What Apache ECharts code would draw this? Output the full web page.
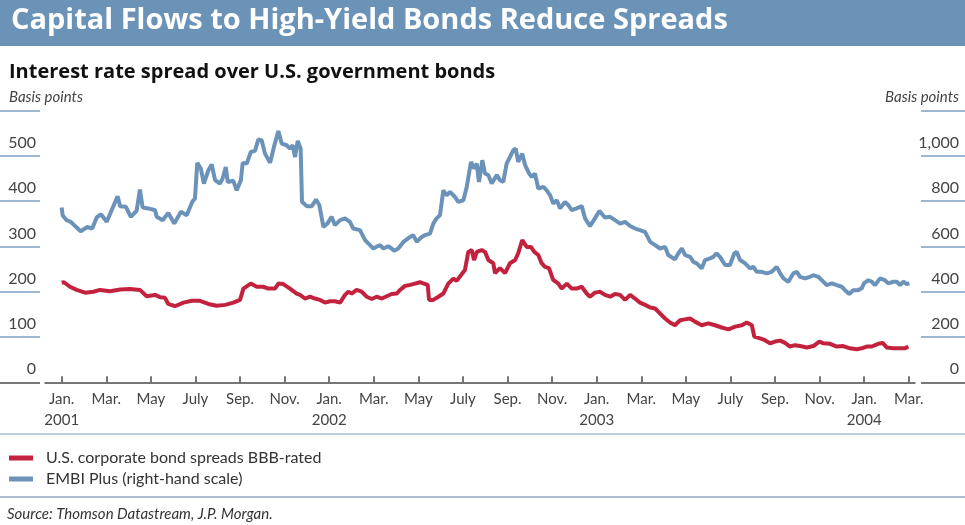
<!DOCTYPE html>
<html><head><meta charset="utf-8">
<script src="https://cdn.jsdelivr.net/npm/echarts@6/dist/echarts.min.js"></script>
<style>html,body{margin:0;padding:0;background:#fff}#c{width:965px;height:525px}</style>
</head><body><div id="c"></div>
<script>
// Months since Jan. 2001 (0 = Jan. 2001, 38 = Mar. 2004)
const blueMonths = [0,0.04,0.22,0.40,0.60,0.85,1.15,1.37,1.57,1.76,
2.02,2.24,2.51,2.62,2.88,3.10,3.36,3.51,3.63,3.89,
4.19,4.26,4.53,4.78,5.05,5.35,5.61,5.86,5.98,6.08,
6.24,6.38,6.58,6.73,6.88,7.10,7.22,7.36,7.45,7.70,
7.85,8.04,8.12,8.30,8.48,8.67,8.82,8.97,9.12,9.35,
9.52,9.72,9.87,10.09,10.24,10.36,10.47,10.59,10.72,10.78,
10.99,11.22,11.41,11.56,11.74,11.92,12.11,12.26,12.49,12.71,
12.93,13.08,13.38,13.61,13.83,13.98,14.28,14.43,14.65,14.80,
14.91,15.10,15.33,15.63,15.77,15.93,16.15,16.30,16.52,16.67,
16.82,16.97,17.12,17.27,17.42,17.64,17.79,18.02,18.17,18.36,
18.51,18.62,18.72,18.87,18.99,19.14,19.29,19.52,19.66,19.81,
19.96,20.11,20.26,20.37,20.48,20.66,20.79,20.97,21.09,21.23,
21.38,21.61,21.76,21.91,22.05,22.21,22.36,22.58,22.73,22.88,
23.10,23.33,23.48,23.70,23.92,24.12,24.37,24.60,24.82,25.05,
25.27,25.50,25.72,25.94,26.17,26.40,26.62,26.84,27.07,27.21,
27.51,27.66,27.82,27.97,28.19,28.34,28.49,28.71,28.86,29.08,
29.23,29.38,29.53,29.76,29.98,30.17,30.28,30.43,30.66,30.88,
31.03,31.18,31.40,31.63,31.85,32.08,32.23,32.38,32.60,32.82,
32.98,33.12,33.35,33.57,33.72,33.94,34.10,34.32,34.55,34.77,
34.99,35.14,35.33,35.51,35.73,35.89,35.99,36.19,36.34,36.49,
36.71,36.93,37.08,37.31,37.46,37.61,37.76,37.91,38.03];
// EMBI Plus, basis points (right-hand scale)
const blueValues = [772,738,716,709,690,667,686,679,728,742,
709,760,822,778,775,731,757,851,772,768,
760,731,716,748,701,753,738,797,812,969,
944,878,937,962,893,878,900,951,885,890,
848,893,969,966,1017,1022,1072,1069,1010,969,
1039,1110,1054,1047,1032,1047,995,1066,1032,797,
778,778,807,782,686,701,731,694,716,724,
709,679,672,628,606,591,606,591,601,591,
581,591,620,642,650,620,642,650,657,701,
724,738,848,826,841,819,797,804,863,973,
944,966,885,981,922,915,878,915,893,885,
966,995,1025,1032,973,1010,959,922,907,922,
856,863,848,826,790,804,768,797,782,760,
768,778,724,690,724,757,728,731,716,701,
709,690,679,672,664,620,606,591,598,562,
543,569,591,562,554,532,525,503,540,547,
554,569,554,518,518,569,576,540,525,503,
510,488,488,481,488,510,481,459,444,481,
488,466,459,466,473,466,451,429,437,429,
422,407,390,407,407,415,437,451,444,429,
459,451,437,444,444,429,444,434,437];
const redMonths = [0,0.10,0.37,0.67,1.05,1.42,1.72,2.17,2.62,3.06,
3.51,3.81,4.19,4.41,4.63,4.78,5.08,5.46,5.83,6.20,
6.58,6.95,7.33,7.70,8.00,8.15,8.48,8.75,9.04,9.27,
9.57,9.72,9.94,10.24,10.54,10.69,10.92,11.14,11.36,11.59,
11.81,12.04,12.26,12.49,12.71,12.86,13.01,13.23,13.46,13.68,
13.91,14.13,14.36,14.58,14.80,15.03,15.18,15.40,15.63,15.85,
16.07,16.25,16.42,16.48,16.67,16.90,17.12,17.34,17.57,17.72,
17.95,18.09,18.24,18.39,18.50,18.62,18.84,18.99,19.14,19.36,
19.44,19.66,19.89,20.11,20.34,20.48,20.66,20.86,21.05,21.20,
21.38,21.53,21.68,21.86,22.05,22.28,22.43,22.66,22.88,23.10,
23.33,23.55,23.70,23.92,24.15,24.37,24.60,24.82,25.05,25.27,
25.50,25.72,25.94,26.17,26.40,26.62,26.84,27.07,27.29,27.51,
27.74,27.96,28.19,28.41,28.71,29.01,29.31,29.61,29.91,30.21,
30.51,30.73,30.96,31.07,31.33,31.55,31.78,32.00,32.23,32.45,
32.67,32.90,33.12,33.42,33.72,33.99,34.17,34.47,34.77,35.06,
35.36,35.67,35.89,36.11,36.34,36.63,36.83,37.01,37.31,37.61,
37.84,37.98];
// U.S. corporate bond spreads BBB-rated, basis points (left-hand scale)
const redValues = [220,221,211,204,198,200,204,201,205,206,
204,190,193,188,187,173,168,176,180,180,
173,169,171,176,182,207,218,211,211,207,
207,218,217,207,196,193,185,189,185,182,
176,179,179,176,193,200,196,204,200,189,
184,189,185,190,195,196,204,213,215,218,
221,218,215,182,182,189,196,218,229,224,
239,248,288,292,270,288,292,288,270,263,
241,252,241,263,270,285,314,299,299,288,
281,263,255,252,226,218,207,218,207,207,
211,196,189,198,200,193,189,195,193,182,
193,185,176,171,165,163,152,141,132,126,
137,139,141,134,126,130,126,121,117,123,
126,132,126,101,97,93,86,90,92,87,
79,82,80,77,80,90,86,85,79,80,
75,73,75,79,79,85,87,77,75,75,
75,79];
const tickMonths = [0,2,4,6,8,10,12,14,16,18,20,22,24,26,28,30,32,34,36,38];
const tickLabels = ['Jan.\n2001','Mar.','May','July','Sep.','Nov.',
  'Jan.\n2002','Mar.','May','July','Sep.','Nov.',
  'Jan.\n2003','Mar.','May','July','Sep.','Nov.',
  'Jan.\n2004','Mar.'];
const seriesNames = ['U.S. corporate bond spreads BBB-rated','EMBI Plus (right-hand scale)'];

const FONT = 'Lato, "Open Sans", sans-serif';
const HEAD = '"Open Sans", Lato, sans-serif';
const BLUE = '#6b93b9', RED = '#c3223f', STUB = '#7d9ec3', AXIS = '#4a4a4a', TXT = '#444';
const TOP = 110.6, BOTTOM = 525 - 382.3;

function zip(a, b) { return a.map((m, i) => [m, b[i]]); }

const chart = echarts.init(document.getElementById('c'));
chart.setOption({
  animation: false,
  textStyle: { fontFamily: FONT },
  graphic: [
    { type: 'rect', z: 0, shape: { x: 0, y: 0, width: 965, height: 46 }, style: { fill: '#6b93b8' } },
    { type: 'line', shape: { x1: 0, y1: 434, x2: 965, y2: 434 }, style: { stroke: '#a7bccf', lineWidth: 1.5 } },
    { type: 'line', shape: { x1: 0, y1: 497, x2: 965, y2: 497 }, style: { stroke: '#8fa9c3', lineWidth: 1.5 } }
  ],
  title: [
    { text: 'Capital Flows to High-Yield Bonds Reduce Spreads', left: 11, top: 6, padding: 0, z: 10,
      textStyle: { color: '#fff', fontSize: 29, fontWeight: 'bold', fontFamily: HEAD } },
    { text: 'Interest rate spread over U.S. government bonds', left: 9, top: 62, padding: 0,
      textStyle: { color: '#111', fontSize: 20, fontWeight: 'bold', fontFamily: HEAD } },
    { text: 'Basis points', left: 9, top: 90, padding: 0,
      textStyle: { color: TXT, fontSize: 15, fontStyle: 'italic', fontWeight: 'normal', fontFamily: FONT } },
    { text: 'Basis points', right: 6, top: 90, padding: 0,
      textStyle: { color: TXT, fontSize: 15, fontStyle: 'italic', fontWeight: 'normal', fontFamily: FONT } },
    { text: 'Source: Thomson Datastream, J.P. Morgan.', left: 7, top: 507, padding: 0,
      textStyle: { color: '#333', fontSize: 15, fontStyle: 'italic', fontWeight: 'normal', fontFamily: FONT } }
  ],
  legend: {
    orient: 'vertical', left: 9, top: 450, padding: 0, itemWidth: 24, itemHeight: 5, itemGap: 5, icon: 'rect',
    textStyle: { fontSize: 16, color: '#333', fontFamily: FONT, padding: [0, 0, 0, 8] },
    data: seriesNames
  },
  grid: [
    { left: 45, width: 870, top: TOP, bottom: BOTTOM },
    { left: 0, width: 40, top: TOP, bottom: BOTTOM },
    { left: 921, right: 0, top: TOP, bottom: BOTTOM }
  ],
  xAxis: [
    { gridIndex: 0, type: 'value', min: -0.749, max: 38.28,
      splitLine: { show: false },
      axisLine: { show: true, lineStyle: { color: AXIS, width: 1.5 } },
      axisTick: { show: true, inside: true, length: 6, customValues: tickMonths, lineStyle: { color: AXIS, width: 1.5 } },
      axisLabel: { customValues: tickMonths, fontSize: 15, lineHeight: 21, color: TXT, margin: 6, fontFamily: FONT,
        formatter: v => { const i = tickMonths.indexOf(Math.round(v)); return i >= 0 ? tickLabels[i] : ''; } } },
    { gridIndex: 1, type: 'value', show: false, min: 0, max: 1 },
    { gridIndex: 2, type: 'value', show: false, min: 0, max: 1 }
  ],
  yAxis: [
    { gridIndex: 0, type: 'value', min: 0, max: 600, show: false },
    { gridIndex: 0, type: 'value', min: 0, max: 1200, show: false, position: 'right' },
    { gridIndex: 1, type: 'value', min: 0, max: 600, interval: 100, position: 'right',
      axisLine: { show: false }, axisTick: { show: false },
      splitLine: { show: true, lineStyle: { color: [AXIS, STUB, STUB, STUB, STUB, STUB, STUB], width: 1.5 } },
      axisLabel: { inside: true, margin: 4, verticalAlign: 'bottom', padding: [0, 0, 5, 0], fontSize: 16, color: TXT, fontFamily: FONT,
        formatter: v => v === 600 ? '' : String(v) } },
    { gridIndex: 2, type: 'value', min: 0, max: 1200, interval: 200, position: 'right',
      axisLine: { show: false }, axisTick: { show: false },
      splitLine: { show: true, lineStyle: { color: [AXIS, STUB, STUB, STUB, STUB, STUB, STUB], width: 1.5 } },
      axisLabel: { inside: true, margin: 6, verticalAlign: 'bottom', padding: [0, 0, 5, 0], fontSize: 16, color: TXT, fontFamily: FONT,
        formatter: v => v === 1200 ? '' : v.toLocaleString('en-US') } }
  ],
  series: [
    { name: seriesNames[0], type: 'line', xAxisIndex: 0, yAxisIndex: 0, data: zip(redMonths, redValues),
      symbol: 'none', lineStyle: { color: RED, width: 4 }, itemStyle: { color: RED }, z: 3 },
    { name: seriesNames[1], type: 'line', xAxisIndex: 0, yAxisIndex: 1, data: zip(blueMonths, blueValues),
      symbol: 'none', lineStyle: { color: BLUE, width: 4 }, itemStyle: { color: BLUE }, z: 2 }
  ]
});
</script></body></html>
